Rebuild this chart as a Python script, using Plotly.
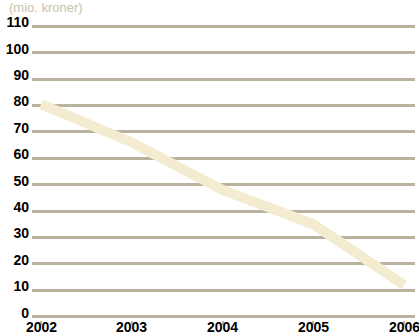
import plotly.graph_objects as go

years = [2002, 2003, 2004, 2005, 2006]
values = [80.5, 66, 48, 35, 12]
y_ticks = [0, 10, 20, 30, 40, 50, 60, 70, 80, 90, 100, 110]
x_ticks = [2002, 2003, 2004, 2005, 2006]
unit_label = "(mio. kroner)"

grid_color = "#b9b29f"
line_color = "#f4ecd0"
font_family = "Liberation Sans Narrow, Arial Narrow, sans-serif"

fig = go.Figure()
fig.add_trace(go.Scatter(
    x=years, y=values, mode="lines",
    line=dict(color=line_color, width=10),
    hoverinfo="skip", cliponaxis=False,
))

tick_font = dict(family=font_family, size=14, color="black", weight="bold")

annotations = [dict(
    text=unit_label, xref="paper", yref="paper",
    x=-0.065, y=1.0667, xanchor="left", yanchor="top", yshift=2, showarrow=False,
    font=dict(family="Liberation Sans Narrow, sans-serif", size=13, color="#c9c1b1", weight="normal"),
)]
for yr in x_ticks:
    annotations.append(dict(
        text=str(yr), x=yr, xref="x", y=0, yref="paper",
        xanchor="center", yanchor="top", yshift=3, showarrow=False,
        font=tick_font,
    ))

fig.update_layout(
    width=419, height=333,
    margin=dict(l=32, r=4, t=20, b=13),
    paper_bgcolor="white", plot_bgcolor="white",
    showlegend=False,
    font=dict(family=font_family, size=14, color="black"),
    xaxis=dict(
        range=[2001.9, 2006.12],
        tickvals=x_ticks, showticklabels=False,
        showgrid=False, zeroline=False, showline=False,
        ticks="outside", ticklen=4, tickwidth=2, tickcolor=grid_color,
        automargin=False, fixedrange=True,
    ),
    yaxis=dict(
        range=[-1.25, 112.4],
        tickvals=y_ticks,
        showgrid=True, gridcolor=grid_color, gridwidth=2.5,
        zeroline=False, showline=False,
        ticks="", ticklabelshift=-4, ticklabelstandoff=2,
        tickfont=tick_font, automargin=False,
        fixedrange=True,
    ),
    annotations=annotations,
)

fig.write_html("out.html")
